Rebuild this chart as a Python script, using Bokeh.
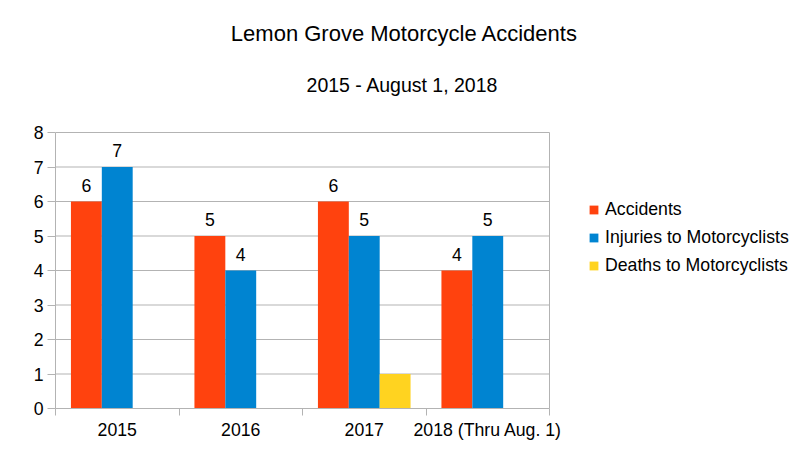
from bokeh.plotting import figure
from bokeh.models import (ColumnDataSource, Range1d, FixedTicker, Legend, LegendItem,
                          LabelSet, Label)
from bokeh.core.properties import value
from bokeh.transform import dodge
from bokeh.embed import file_html
from bokeh.resources import INLINE

# ---- data ----
categories = ["2015", "2016", "2017", "2018 (Thru Aug. 1)"]
accidents = [6, 5, 6, 4]
injuries = [7, 4, 5, 5]
deaths = [0, 0, 1, 0]
series_names = ["Accidents", "Injuries to Motorcyclists", "Deaths to Motorcyclists"]
y_ticks = [0, 1, 2, 3, 4, 5, 6, 7, 8]
title_text = "Lemon Grove Motorcycle Accidents"
subtitle_text = "2015 - August 1, 2018"

colors = ["#ff420e", "#0084d1", "#ffd320"]
FONT = "Liberation Sans"
GRAY = "#b3b3b3"

# ---- layout (pixels) ----
W, H = 811, 470
LEFT, BOTTOM = 55, 62            # space for the axes
PLOT_W, PLOT_H = 494, 276        # size of the bar area
n = len(categories)
ymax = y_ticks[-1]
frame_w = W - LEFT
frame_h = H - BOTTOM
x_end = n * frame_w / PLOT_W
y_end = ymax * frame_h / PLOT_H


def px_x(px):   # page x pixel -> data x
    return (px - LEFT) / PLOT_W * n


def px_y(py):   # page y pixel -> data y
    return (frame_h - py) / PLOT_H * ymax


centers = [i + 0.5 for i in range(n)]
source = ColumnDataSource(dict(
    x=centers, cat=categories,
    acc=accidents, inj=injuries, dea=deaths,
    acc_s=[str(v) for v in accidents], inj_s=[str(v) for v in injuries],
))

p = figure(width=W, height=H, output_backend="svg", toolbar_location=None,
           title=None, x_range=Range1d(0, x_end), y_range=Range1d(0, y_end))
p.min_border_left = LEFT
p.min_border_right = 0
p.min_border_top = 0
p.min_border_bottom = BOTTOM
p.background_fill_color = "white"
p.border_fill_color = "white"
p.outline_line_color = None
p.xgrid.visible = False
p.ygrid.visible = False

# grid lines and right border of the bar area
p.segment(x0=[0] * len(y_ticks), x1=[n] * len(y_ticks), y0=y_ticks, y1=y_ticks,
          line_color=GRAY, line_width=1)
p.segment(x0=[n], x1=[n], y0=[0], y1=[ymax], line_color=GRAY, line_width=1)

bw = 0.25
r_acc = p.vbar(x=dodge("x", -bw), top="acc", width=bw, source=source,
               fill_color=colors[0], line_color=None)
r_inj = p.vbar(x=dodge("x", 0), top="inj", width=bw, source=source,
               fill_color=colors[1], line_color=None)
r_dea = p.vbar(x=dodge("x", bw), top="dea", width=bw, source=source,
               fill_color=colors[2], line_color=None)

for col, txt, off in [("acc", "acc_s", -bw), ("inj", "inj_s", 0)]:
    ls = LabelSet(x=dodge("x", off), y=col, text=txt, source=source,
                  text_align="center", text_baseline="alphabetic", y_offset=10,
                  text_font=value(FONT), text_font_size=value("17.7px"),
                  text_color="black")
    p.add_layout(ls)

# axes
xa = p.xaxis[0]
xa.bounds = (0, n)
xa.ticker = FixedTicker(ticks=centers, minor_ticks=list(range(n + 1)))
xa.major_label_overrides = {c: lab for c, lab in zip(centers, categories)}
xa.major_tick_out = 0
xa.major_tick_in = 0
xa.minor_tick_out = 7
xa.minor_tick_in = 0
xa.minor_tick_line_color = GRAY
xa.axis_line_color = GRAY
xa.major_label_text_font = FONT
xa.major_label_text_font_size = "17.7px"
xa.major_label_text_color = "black"
xa.major_label_standoff = 4

ya = p.yaxis[0]
ya.bounds = (0, ymax)
ya.ticker = FixedTicker(ticks=y_ticks)
ya.major_tick_out = 8
ya.major_tick_in = 0
ya.minor_tick_out = 0
ya.minor_tick_in = 0
ya.major_tick_line_color = GRAY
ya.axis_line_color = GRAY
ya.major_label_text_font = FONT
ya.major_label_text_font_size = "17.7px"
ya.major_label_text_color = "black"
ya.major_label_standoff = 4

# titles
p.add_layout(Label(x=px_x(404), y=px_y(33), text=title_text, text_align="center",
                   text_baseline="middle", text_font=FONT, text_font_size="22px",
                   text_color="black"))
p.add_layout(Label(x=px_x(402), y=px_y(84), text=subtitle_text, text_align="center",
                   text_baseline="middle", text_font=FONT, text_font_size="19.5px",
                   text_color="black"))

# legend
legend = Legend(items=[LegendItem(label=series_names[0], renderers=[r_acc]),
                       LegendItem(label=series_names[1], renderers=[r_inj]),
                       LegendItem(label=series_names[2], renderers=[r_dea])],
                location=(588 - LEFT, frame_h - 279), orientation="vertical")
legend.border_line_color = None
legend.background_fill_alpha = 0
legend.padding = 0
legend.margin = 0
legend.spacing = 0
legend.glyph_width = 11
legend.glyph_height = 11
legend.label_height = 28
legend.label_standoff = 6
legend.label_text_font = FONT
legend.label_text_font_size = "17.7px"
legend.label_text_color = "black"
p.add_layout(legend)

open("out.html", "w").write(file_html(p, INLINE))
